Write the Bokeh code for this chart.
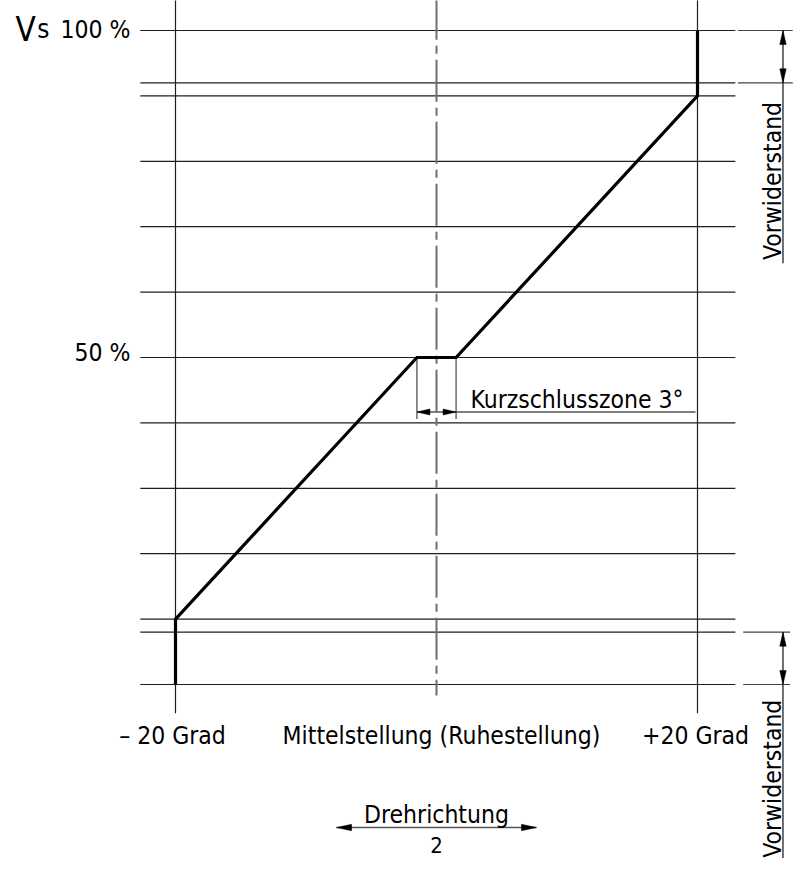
import math
from bokeh.plotting import figure
from bokeh.models import Range1d
from bokeh.core.properties import value
from bokeh.embed import file_html
from bokeh.resources import INLINE

# ---------------- data ----------------
deg_ticks = [-20, 0, 20]
deg_labels = ["– 20 Grad", "Mittelstellung (Ruhestellung)", "+20 Grad"]
grid_levels = [0, 8, 10, 20, 30, 40, 50, 60, 70, 80, 90, 92, 100]
curve_deg = [-20, -20, -1.5, 1.5, 20, 20]
curve_pct = [0, 10, 50, 50, 90, 100]
pct_labels = ["100 %", "50 %"]
pct_label_levels = [100, 50]
vorwiderstand = 8      # % at each end
kurzschluss = 3        # degrees around middle
FONT = "DejaVu Sans Condensed"

W, H = 794, 858
X0, X1 = -33.410, 27.433
Y0, Y1 = -26.606, 104.587
XS = W / (X1 - X0)
YS = H / (Y1 - Y0)
TY = 8 / YS   # text baseline correction (8 px upward)

p = figure(width=W, height=H, x_range=Range1d(X0, X1), y_range=Range1d(Y0, Y1),
           output_backend="svg", toolbar_location=None, min_border=0,
           min_border_left=0, min_border_right=0, min_border_top=0, min_border_bottom=0,
           x_axis_location=None, y_axis_location=None, outline_line_color=None)
p.grid.visible = False
p.background_fill_color = "white"
p.border_fill_color = "white"

def head(tx, ty, dx, dy, L=14, Wd=3.2):
    if dx:
        bx = tx - dx * L / XS
        return [tx, bx, bx], [ty, ty + Wd / YS, ty - Wd / YS]
    by = ty - dy * L / YS
    return [tx, tx + Wd / XS, tx - Wd / XS], [ty, by, by]

# horizontal grid
p.multi_line(xs=[[-22.7, 22.9] for _ in grid_levels], ys=[[v, v] for v in grid_levels],
             line_color="#1e1e1e", line_width=1.2)

# vertical lines at +-20
p.multi_line(xs=[[deg_ticks[0]] * 2, [deg_ticks[2]] * 2], ys=[[105, -4.4], [105, -4.4]],
             line_color="#1e1e1e", line_width=1.2)
# centre line dash-dot
p.line([deg_ticks[1]] * 2, [105, -1.7], line_color="#6e6e6e", line_width=2, line_dash="42 6 8 6")

# extension lines of Vorwiderstand dimensions
top_lv = [100 - vorwiderstand, 100]
bot_lv = [0, vorwiderstand]
p.multi_line(xs=[[23.1, 27.3] for _ in top_lv] + [[23.5, 27.1] for _ in bot_lv],
             ys=[[v, v] for v in top_lv] + [[v, v] for v in bot_lv],
             line_color="#444444", line_width=1.2)
DIM_X = 26.55
p.multi_line(xs=[[DIM_X, DIM_X], [DIM_X, DIM_X]], ys=[[100, 64.4], [vorwiderstand, -26.6]],
             line_color="#222222", line_width=1.3)

heads = [head(DIM_X, 100, 0, 1), head(DIM_X, 100 - vorwiderstand, 0, -1),
         head(DIM_X, vorwiderstand, 0, 1), head(DIM_X, 0, 0, -1)]

# Kurzschlusszone dimension
kx = kurzschluss / 2
ky = 41.67
p.multi_line(xs=[[-kx, -kx], [kx, kx]], ys=[[50, 40.6], [50, 40.6]], line_color="#333333", line_width=1.1)
p.line([-kx, 19.85], [ky, ky], line_color="#555555", line_width=1.5)
heads += [head(-kx, ky, -1, 0, L=13, Wd=3), head(kx, ky, 1, 0, L=13, Wd=3)]

# Drehrichtung arrow
dy_ = -21.87
p.line([-7.66, 7.66], [dy_, dy_], line_color="#555555", line_width=1.5)
heads += [head(-7.66, dy_, -1, 0, L=15, Wd=3.2), head(7.66, dy_, 1, 0, L=15, Wd=3.2)]

p.patches(xs=[h[0] for h in heads], ys=[h[1] for h in heads], fill_color="black", line_color="black", line_width=0.5)

# curve
p.line(curve_deg, curve_pct, line_color="black", line_width=3.2, line_join="miter")

# circle symbol (partly below the visible page)
p.circle(x=[0], y=[-28.44], radius=11 / XS, fill_color=None, line_color="black", line_width=3)

# texts
tf = value(FONT)
FS = "24.5px"
p.text(x=deg_ticks, y=[-9.0 + TY] * 3, text=deg_labels, text_font=tf, text_font_size=FS,
       text_align="center", text_baseline="alphabetic", x_offset=[-3, 5, -2])
p.text(x=[-23.45, -23.45], y=[98.93 + TY, 49.54 + TY], text=pct_labels, text_font=tf, text_font_size=FS,
       text_align="right", text_baseline="alphabetic")
p.text(x=[-32.26], y=[98.93 + TY], text=["V"], text_font=tf, text_font_size="33px",
       text_align="left", text_baseline="alphabetic")
p.text(x=[-30.6], y=[98.93 + TY], text=["s"], text_font=tf, text_font_size="26px",
       text_align="left", text_baseline="alphabetic")
p.text(x=[2.6], y=[42.3 + TY], text=["Kurzschlusszone 3°"], text_font=tf, text_font_size=FS,
       text_align="left", text_baseline="alphabetic")
p.text(x=[25.75, 25.75], y=[77.0, -14.4], text=["Vorwiderstand", "Vorwiderstand"], text_font=tf,
       text_font_size=FS, text_align="center", text_baseline="alphabetic", angle=math.pi / 2)
p.text(x=[0], y=[-21.1 + TY], text=["Drehrichtung"], text_font=tf, text_font_size=FS,
       text_align="center", text_baseline="alphabetic")
p.text(x=[0], y=[-25.7 + TY], text=["2"], text_font=tf, text_font_size="22px",
       text_align="center", text_baseline="alphabetic")

open("out.html", "w").write(file_html(p, INLINE))
